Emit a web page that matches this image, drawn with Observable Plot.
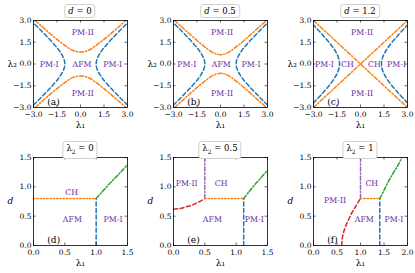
<!DOCTYPE html>
<html><head><meta charset="utf-8">
<script src="https://cdn.jsdelivr.net/npm/d3@7"></script>
<script src="https://cdn.jsdelivr.net/npm/@observablehq/plot@0.6"></script>
<style>
body{margin:0;background:#fff;}
#wrap{position:relative;width:415px;height:273px;overflow:hidden;font-family:"DejaVu Serif",serif;background:#fff;}
.title{position:absolute;border:1px solid #cfcfcf;border-radius:3px;font-size:8.5px;line-height:12px;padding:0 3px;background:#fff;white-space:nowrap;transform:translateX(-50%);color:#000;}
</style></head><body><div id="wrap"></div><script>
// ---------- tick values ----------
const topTicks = [-3, -1.5, 0, 1.5, 3];
const botYTicks = [0, 0.5, 1.0, 1.5];
const botXTicksDE = [0, 0.5, 1.0, 1.5];
const botXTicksF = [0, 0.5, 1.0, 1.5, 2.0];

// ---------- top row: boundary branches ----------
// blue: |λ1| as a function of λ2
const blueL2_d0 = [-2.83, -2.5, -2.0, -1.5, -1.0, -0.75, -0.5, -0.25, 0, 0.25, 0.5, 0.75, 1.0, 1.5, 2.0, 2.5, 2.83];
const blueL1_d0 = [3.0, 2.69, 2.24, 1.80, 1.41, 1.25, 1.12, 1.03, 1.0, 1.03, 1.12, 1.25, 1.41, 1.80, 2.24, 2.69, 3.0];
const blueL2_d12 = [-2.68, -2.5, -2.0, -1.5, -1.0, -0.5, 0, 0.5, 1.0, 1.5, 2.0, 2.5, 2.68];
const blueL1_d12 = [3.0, 2.84, 2.41, 2.01, 1.67, 1.43, 1.34, 1.43, 1.67, 2.01, 2.41, 2.84, 3.0];
// orange: |λ2| as a function of λ1
const orangeL1_d0 = [-2.89, -2.5, -2.0, -1.5, -1.0, -0.5, 0, 0.5, 1.0, 1.5, 2.0, 2.5, 2.89];
const orangeL2_d0 = [3.0, 2.62, 2.15, 1.70, 1.28, 0.94, 0.82, 0.94, 1.28, 1.70, 2.15, 2.62, 3.0];
const orangeL1_d05 = [-2.93, -2.5, -2.0, -1.5, -1.0, -0.5, 0, 0.5, 1.0, 1.5, 2.0, 2.5, 2.93];
const orangeL2_d05 = [3.0, 2.58, 2.10, 1.62, 1.18, 0.80, 0.64, 0.80, 1.18, 1.62, 2.10, 2.58, 3.0];
const orangeL1_d12 = [-3.0, 0, 3.0];
const orangeL2_d12 = [3.0, 0, 3.0];

// ---------- bottom row ----------
const dBlueX = [1.0, 1.0], dBlueY = [0, 0.8];
const dOrangeX = [0, 1.0], dOrangeY = [0.8, 0.8];
const dGreenX = [1.0, 1.1, 1.2, 1.3, 1.4, 1.5], dGreenY = [0.8, 0.92, 1.04, 1.15, 1.26, 1.38];

const eRedX = [0, 0.1, 0.2, 0.3, 0.4, 0.5], eRedY = [0.62, 0.63, 0.66, 0.69, 0.74, 0.8];
const ePurpleX = [0.5, 0.5], ePurpleY = [0.8, 1.5];
const eOrangeX = [0.5, 1.12], eOrangeY = [0.8, 0.8];
const eBlueX = [1.12, 1.12], eBlueY = [0, 0.8];
const eGreenX = [1.12, 1.2, 1.3, 1.4, 1.5], eGreenY = [0.8, 0.91, 1.04, 1.16, 1.28];

const fRedX = [0.6, 0.62, 0.65, 0.7, 0.8, 0.9, 1.0], fRedY = [0, 0.16, 0.25, 0.36, 0.53, 0.67, 0.8];
const fPurpleX = [1.0, 1.0], fPurpleY = [0.8, 1.5];
const fOrangeX = [1.0, 1.41], fOrangeY = [0.8, 0.8];
const fBlueX = [1.41, 1.41], fBlueY = [0, 0.8];
const fGreenX = [1.41, 1.5, 1.6, 1.7, 1.8, 1.88], fGreenY = [0.8, 0.94, 1.10, 1.24, 1.37, 1.5];

// ---------- phase labels ----------
const labA = {t: ["PM-II", "PM-I", "AFM", "PM-I", "PM-II"], x: [0.15, -2.0, 0.1, 2.05, 0.15], y: [2.2, 0, 0, 0, -2.0]};
const labB = {t: ["PM-II", "PM-I", "AFM", "PM-I", "PM-II"], x: [0.1, -2.15, 0.05, 1.95, 0.1], y: [2.2, 0, 0, 0, -2.0]};
const labC = {t: ["PM-II", "PM-I", "CH", "CH", "PM-I", "PM-II"], x: [0.1, -2.3, -0.83, 0.88, 2.3, 0.1], y: [2.15, 0, 0, 0, 0, -2.0]};
const labD = {t: ["CH", "AFM", "PM-I"], x: [0.61, 0.62, 1.27], y: [0.9, 0.45, 0.45]};
const labE = {t: ["PM-II", "CH", "AFM", "PM-I"], x: [0.21, 0.76, 0.62, 1.29], y: [1.05, 1.05, 0.45, 0.45]};
const labF = {t: ["CH", "PM-II", "AFM", "PM-I"], x: [1.24, 0.46, 1.08, 1.71], y: [1.06, 0.77, 0.45, 0.45]};

const titles = ["<i>d</i> = 0", "<i>d</i> = 0.5", "<i>d</i> = 1.2", "λ<sub style='font-size:6px'>2</sub> = 0", "λ<sub style='font-size:6px'>2</sub> = 0.5", "λ<sub style='font-size:6px'>2</sub> = 1"];
const letters = ["(a)", "(b)", "(c)", "(d)", "(e)", "(f)"];

const C = {blue: "#1f77b4", orange: "#ff7f0e", green: "#2ca02c", red: "#d62728", purple: "#9467bd", text: "#6b2fa6"};
const DASH = "4,2.6", DASHDOT = "4,2,1.2,2", DOT = "1.3,2";

const fmt = d3.format(".1f");
const pts = (xs, ys, sx = 1, sy = 1) => xs.map((x, i) => ({x: sx * x, y: sy * ys[i]}));
const ln = (data, stroke, dash, curve = "catmull-rom") => Plot.line(data, {x: "x", y: "y", stroke, strokeWidth: 1.5, strokeDasharray: dash, curve, clip: true});
const wrap = document.getElementById("wrap");

function panel({left, top, fw, fh, xd, yd, xt, yt, marks, lab, letter, title, xlabel, ylabel, yItalic}) {
  const mL = 33, mR = 6, mT = 3, mB = 26;
  const tl = 2.5;
  const svg = Plot.plot({
    width: fw + mL + mR, height: fh + mT + mB,
    marginLeft: mL, marginRight: mR, marginTop: mT, marginBottom: mB,
    x: {domain: xd}, y: {domain: yd},
    style: {background: "transparent", fontFamily: "DejaVu Serif, serif", fontSize: "7.5px", color: "#000", overflow: "visible"},
    marks: [
      ...marks,
      Plot.text(lab.t, {x: (d, i) => lab.x[i], y: (d, i) => lab.y[i], text: d => d, fill: C.text, fontSize: 7.8}),
      Plot.text([letter], {frameAnchor: "bottom-left", dx: fw * 0.19 - 4, dy: -3, text: d => d, fontSize: 9, textAnchor: "start", lineAnchor: "bottom"}),
      Plot.frame({stroke: "#000", strokeWidth: 0.8}),
      Plot.tickX(xt, {x: d => d, insetTop: fh - tl, stroke: "#000", strokeWidth: 0.6}),
      Plot.tickX(xt, {x: d => d, insetBottom: fh - tl, stroke: "#000", strokeWidth: 0.6}),
      Plot.tickY(yt, {y: d => d, insetRight: fw - tl, stroke: "#000", strokeWidth: 0.6}),
      Plot.tickY(yt, {y: d => d, insetLeft: fw - tl, stroke: "#000", strokeWidth: 0.6}),
      Plot.axisX(xt, {tickSize: 0, tickPadding: 4.5, tickFormat: fmt, label: null}),
      Plot.axisY(yt, {tickSize: 0, tickPadding: 2, tickFormat: fmt, label: null}),
      Plot.text([xlabel], {frameAnchor: "bottom", dy: 20, text: d => d, fontSize: 9}),
      Plot.text([ylabel], {frameAnchor: "left", dx: -26, text: d => d, fontSize: 9, fontStyle: yItalic ? "italic" : "normal"})
    ]
  });
  svg.style.position = "absolute";
  svg.style.left = (left - mL) + "px";
  svg.style.top = (top - mT) + "px";
  wrap.appendChild(svg);
  const t = document.createElement("div");
  t.className = "title";
  t.innerHTML = title;
  t.style.left = (left + fw / 2) + "px";
  t.style.top = (top - 16) + "px";
  wrap.appendChild(t);
}

const lefts = [33, 173, 313];
const widths = [94, 94, 94];

function topMarks(bl1, bl2, ol1, ol2, ocurve) {
  return [
    ln(pts(bl1, bl2, 1, 1), C.blue, DASH),
    ln(pts(bl1, bl2, -1, 1), C.blue, DASH),
    ln(pts(ol1, ol2, 1, 1), C.orange, DASHDOT, ocurve),
    ln(pts(ol1, ol2, 1, -1), C.orange, DASHDOT, ocurve)
  ];
}
const topMarkSets = [
  topMarks(blueL1_d0, blueL2_d0, orangeL1_d0, orangeL2_d0, "catmull-rom"),
  topMarks(blueL1_d0, blueL2_d0, orangeL1_d05, orangeL2_d05, "catmull-rom"),
  topMarks(blueL1_d12, blueL2_d12, orangeL1_d12, orangeL2_d12, "linear")
];
const topLabs = [labA, labB, labC];
for (let i = 0; i < 3; i++) {
  panel({left: lefts[i], top: 20, fw: widths[i], fh: 87, xd: [-3, 3], yd: [-3, 3], xt: topTicks, yt: topTicks,
    marks: topMarkSets[i], lab: topLabs[i], letter: letters[i], title: titles[i], xlabel: "λ₁", ylabel: "λ₂", yItalic: false});
}

const botMarkSets = [
  [ln(pts(dOrangeX, dOrangeY), C.orange, DOT, "linear"), ln(pts(dBlueX, dBlueY), C.blue, DASH, "linear"), ln(pts(dGreenX, dGreenY), C.green, DASHDOT)],
  [ln(pts(eRedX, eRedY), C.red, DASH), ln(pts(ePurpleX, ePurpleY), C.purple, DASHDOT, "linear"), ln(pts(eOrangeX, eOrangeY), C.orange, DOT, "linear"), ln(pts(eBlueX, eBlueY), C.blue, DASH, "linear"), ln(pts(eGreenX, eGreenY), C.green, DASHDOT)],
  [ln(pts(fRedX, fRedY), C.red, DASH), ln(pts(fPurpleX, fPurpleY), C.purple, DASHDOT, "linear"), ln(pts(fOrangeX, fOrangeY), C.orange, DOT, "linear"), ln(pts(fBlueX, fBlueY), C.blue, DASH, "linear"), ln(pts(fGreenX, fGreenY), C.green, DASHDOT)]
];
const botLabs = [labD, labE, labF];
const botXd = [[0, 1.5], [0, 1.5], [0, 2]];
const botXt = [botXTicksDE, botXTicksDE, botXTicksF];
for (let i = 0; i < 3; i++) {
  panel({left: lefts[i], top: 157, fw: widths[i], fh: 88, xd: botXd[i], yd: [0, 1.5], xt: botXt[i], yt: botYTicks,
    marks: botMarkSets[i], lab: botLabs[i], letter: letters[i + 3], title: titles[i + 3], xlabel: "λ₁", ylabel: "d", yItalic: true});
}
</script></body></html>
